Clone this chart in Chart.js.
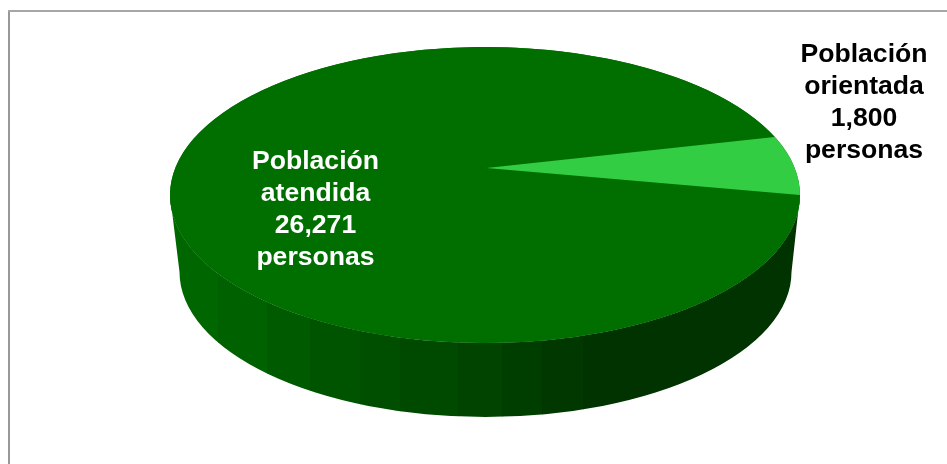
<!DOCTYPE html>
<html lang="es">
<head>
<meta charset="utf-8">
<title>Población</title>
<style>
    html, body { margin: 0; padding: 0; background: #ffffff; }
    canvas { display: block; }
</style>
<script src="https://cdn.jsdelivr.net/npm/chart.js@4"></script>
</head>
<body>
<canvas id="myChart" width="947" height="464"></canvas>
<script>
var categories = ["Población atendida", "Población orientada"];
var values = [26271, 1800];
var sliceColors = ["#006f00", "#33cd44"];
var unitLabel = "personas";

// tapa y base del pastel 3D
var topFace = { x: 485, y: 195, rx: 315, ry: 148 };
var bottomFace = { x: 485.5, y: 272, rx: 306, ry: 145 };
var apex = { x: 486.5, y: 168 };

// bandas verticales del costado: [x final, color]
var wallBands = [
    [218, "#006700"], [267, "#006100"], [310, "#005a00"], [360, "#005400"],
    [400, "#004f00"], [458, "#004a00"], [502, "#004400"], [542, "#003e00"],
    [583, "#003800"], [947, "#003300"]
];

// posicion de cada etiqueta: [centro x, primera linea base, color]
var labelStyles = [
    [315.5, 169, "#ffffff"],
    [864, 62, "#000000"]
];

function facePoint(face, angle) {
    return { x: face.x + face.rx * Math.cos(angle), y: face.y + face.ry * Math.sin(angle) };
}

function drawWall(ctx) {
    ctx.save();
    ctx.beginPath();
    ctx.ellipse(topFace.x, topFace.y, topFace.rx, topFace.ry, 0, Math.PI, 0, true);
    ctx.ellipse(bottomFace.x, bottomFace.y, bottomFace.rx, bottomFace.ry, 0, 0, Math.PI);
    ctx.closePath();
    ctx.clip();
    var left = 0;
    wallBands.forEach(function(band) {
        ctx.fillStyle = band[1];
        ctx.fillRect(left, 0, band[0] - left + 0.5, 464);
        left = band[0];
    });
    ctx.restore();
}

function drawLargeSlice(ctx, arc) {
    ctx.save();
    ctx.fillStyle = sliceColors[0];
    ctx.beginPath();
    ctx.ellipse(topFace.x, topFace.y, topFace.rx, topFace.ry, 0, 0, Math.PI * 2);
    ctx.fill();
    ctx.translate(topFace.x, topFace.y);
    ctx.scale(topFace.rx / arc.outerRadius, topFace.ry / arc.outerRadius);
    ctx.translate(-arc.x, -arc.y);
    arc.draw(ctx);
    ctx.restore();
}

// el vertice de la perspectiva no coincide con el centro de la elipse
function drawSmallSlice(ctx, arc) {
    var over = 1.15;
    var r = arc.outerRadius;
    var a0 = arc.startAngle;
    var a1 = arc.endAngle;
    var p0 = facePoint(topFace, a0);
    var p1 = facePoint(topFace, a1);
    var vx0 = over * (p0.x - apex.x), vy0 = over * (p0.y - apex.y);
    var vx1 = over * (p1.x - apex.x), vy1 = over * (p1.y - apex.y);
    var ux0 = r * Math.cos(a0), uy0 = r * Math.sin(a0);
    var ux1 = r * Math.cos(a1), uy1 = r * Math.sin(a1);
    var det = ux0 * uy1 - ux1 * uy0;
    var m11 = (vx0 * uy1 - vx1 * uy0) / det;
    var m12 = (vx1 * ux0 - vx0 * ux1) / det;
    var m21 = (vy0 * uy1 - vy1 * uy0) / det;
    var m22 = (vy1 * ux0 - vy0 * ux1) / det;

    ctx.save();
    ctx.beginPath();
    ctx.ellipse(topFace.x, topFace.y, topFace.rx, topFace.ry, 0, 0, Math.PI * 2);
    ctx.clip();
    ctx.transform(m11, m21, m12, m22,
        apex.x - m11 * arc.x - m12 * arc.y,
        apex.y - m21 * arc.x - m22 * arc.y);
    arc.draw(ctx);
    ctx.restore();
}

function drawLabels(ctx) {
    ctx.save();
    ctx.font = "bold 26.6px 'Liberation Sans', Arial, sans-serif";
    ctx.textAlign = "center";
    ctx.textBaseline = "alphabetic";
    categories.forEach(function(name, i) {
        var lines = name.split(" ").concat([values[i].toLocaleString("en-US"), unitLabel]);
        ctx.fillStyle = labelStyles[i][2];
        lines.forEach(function(line, j) {
            ctx.fillText(line, labelStyles[i][0], labelStyles[i][1] + j * 32);
        });
    });
    ctx.restore();
}

var pie3d = {
    id: "pie3d",
    beforeDraw: function(chart) {
        var ctx = chart.ctx;
        ctx.save();
        ctx.fillStyle = "#ffffff";
        ctx.fillRect(0, 0, 947, 464);
        ctx.fillStyle = "#989898";
        ctx.fillRect(8, 10, 2, 454);
        ctx.fillStyle = "#a6a6a6";
        ctx.fillRect(8, 10, 939, 2);
        ctx.restore();
    },
    beforeDatasetDraw: function(chart, args) {
        var ctx = chart.ctx;
        drawWall(ctx);
        drawLargeSlice(ctx, args.meta.data[0]);
        drawSmallSlice(ctx, args.meta.data[1]);
        return false;
    },
    afterDraw: function(chart) {
        drawLabels(chart.ctx);
    }
};

var myChart = new Chart(document.getElementById("myChart").getContext("2d"), {
    type: "pie",
    data: {
        labels: categories,
        datasets: [{
            data: values,
            backgroundColor: sliceColors,
            borderWidth: 0
        }]
    },
    options: {
        responsive: false,
        animation: false,
        rotation: 90,
        plugins: {
            legend: { display: false },
            tooltip: { enabled: false }
        }
    },
    plugins: [pie3d]
});
</script>
</body>
</html>
